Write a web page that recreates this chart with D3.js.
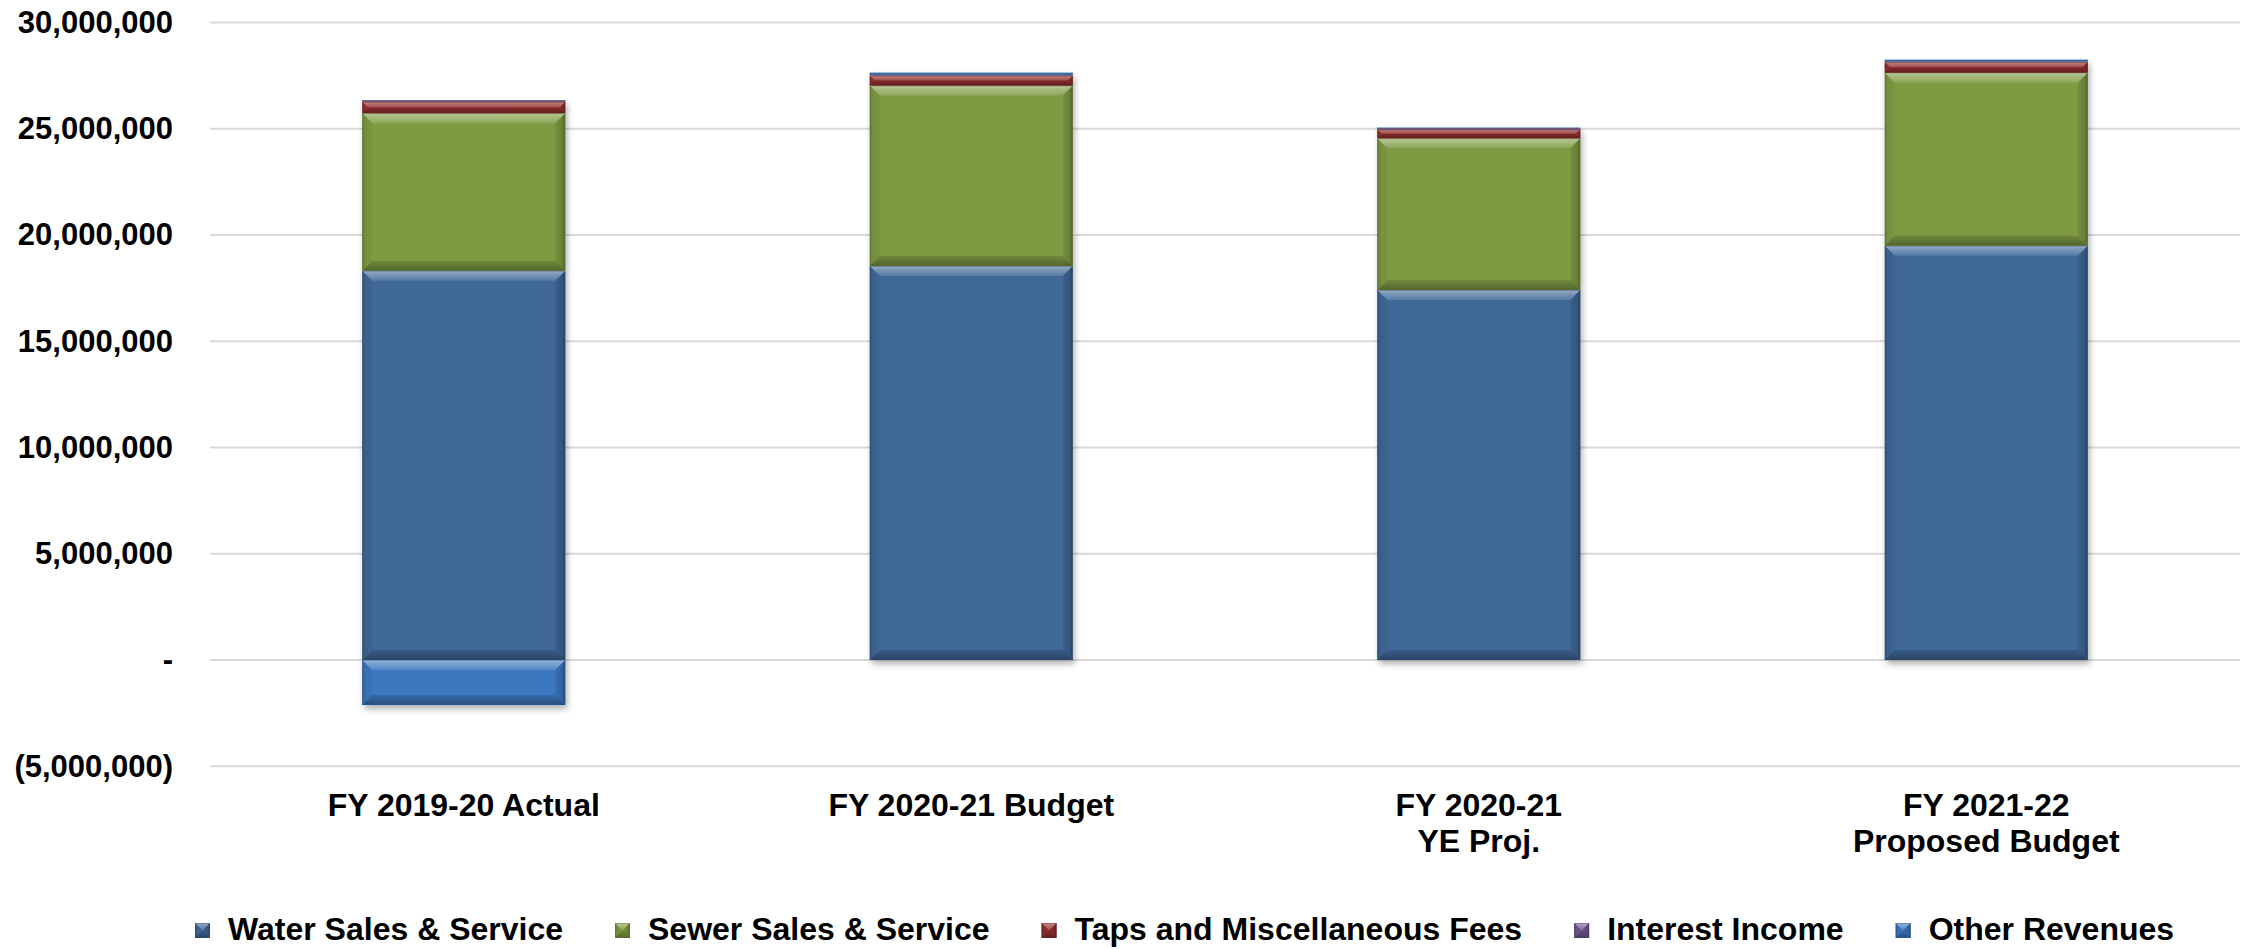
<!DOCTYPE html>
<html>
<head>
<meta charset="utf-8">
<script src="https://cdn.jsdelivr.net/npm/d3@7/dist/d3.min.js"></script>
<style>
  html, body { margin: 0; padding: 0; background: #ffffff; }
  svg { display: block; font-family: "Liberation Sans", Arial, sans-serif; font-weight: bold; }
</style>
</head>
<body>
<svg id="chart" width="2252" height="949"></svg>
<script>
// ---- data ----
const categories = [["FY 2019-20 Actual"], ["FY 2020-21 Budget"], ["FY 2020-21", "YE Proj."], ["FY 2021-22", "Proposed Budget"]];
const seriesNames = ["Water Sales & Service", "Sewer Sales & Service", "Taps and Miscellaneous Fees", "Interest Income", "Other Revenues"];
const water    = [18320000, 18540000, 17410000, 19500000];
const sewer    = [7410000, 8490000, 7140000, 8140000];
const taps     = [540000, 470000, 420000, 500000];
const interest = [80000, 40000, 70000, 30000];
const other    = [-2120000, 100000, 20000, 80000];
const yTicks   = [-5000000, 0, 5000000, 10000000, 15000000, 20000000, 25000000, 30000000];
const colors   = ["#3f6899", "#7f9b43", "#93302f", "#72588f", "#3b78c0"];

// ---- layout ----
const W = 2252, H = 949;
const plot = { left: 210, right: 2240, top: 22.5, bottom: 766.25 };
const svg = d3.select("#chart");

const rows = categories.map((c, i) => ({
  key: i,
  [seriesNames[0]]: water[i],
  [seriesNames[1]]: sewer[i],
  [seriesNames[2]]: taps[i],
  [seriesNames[3]]: interest[i],
  [seriesNames[4]]: other[i]
}));

const x = d3.scaleBand().domain(d3.range(categories.length)).range([plot.left, plot.right])
  .paddingInner(0.6).paddingOuter(0.3);
const y = d3.scaleLinear().domain([-5000000, 30000000]).range([plot.bottom, plot.top]);

const stack = d3.stack().keys(seriesNames).offset(d3.stackOffsetDiverging);
const stacked = stack(rows);

// ---- defs ----
const defs = svg.append("defs");
function grad(id, x1, y1, x2, y2, stops) {
  const g = defs.append("linearGradient").attr("id", id)
    .attr("x1", x1).attr("y1", y1).attr("x2", x2).attr("y2", y2);
  stops.forEach(s => g.append("stop").attr("offset", s[0]).attr("stop-color", s[1]).attr("stop-opacity", s[2]));
}
grad("gTop", 0, 0, 0, 1, [[0, "#fff", 0.55], [0.25, "#fff", 0.35], [1, "#fff", 0.12]]);
grad("gBot", 0, 0, 0, 1, [[0, "#000", 0.12], [1, "#000", 0.35]]);
grad("gLeft", 0, 0, 1, 0, [[0, "#000", 0.22], [0.3, "#000", 0.08], [1, "#000", 0.04]]);
grad("gRight", 0, 0, 1, 0, [[0, "#000", 0.08], [0.7, "#000", 0.18], [1, "#000", 0.4]]);
const f = defs.append("filter").attr("id", "shadow").attr("x", "-10%").attr("y", "-10%").attr("width", "130%").attr("height", "130%");
f.append("feDropShadow").attr("dx", 2).attr("dy", 4).attr("stdDeviation", 3).attr("flood-color", "#000").attr("flood-opacity", 0.3);

// ---- gridlines ----
svg.append("g").selectAll("line").data(yTicks).join("line")
  .attr("x1", plot.left).attr("x2", plot.right)
  .attr("y1", d => y(d)).attr("y2", d => y(d))
  .attr("stroke", "#d9d9d9").attr("stroke-width", 2);

// ---- y axis ----
const fmt = d3.format(",");
const yAxis = d3.axisLeft(y).tickValues(yTicks).tickSize(0).tickPadding(37)
  .tickFormat(d => d === 0 ? "-" : (d < 0 ? "(" + fmt(-d) + ")" : fmt(d)));
const ya = svg.append("g").attr("transform", `translate(${plot.left},0)`).call(yAxis);
ya.select(".domain").remove();
ya.selectAll("text").attr("font-size", 31).attr("font-weight", "bold").attr("fill", "#000")
  .attr("font-family", "'Liberation Sans', Arial, sans-serif");

// ---- bars with bevel ----
function bevelSeg(g, x0, x1, yt, yb, color) {
  const h = yb - yt;
  if (h <= 0) return;
  const b = Math.min(10, h / 2);
  g.append("rect").attr("x", x0).attr("y", yt).attr("width", x1 - x0).attr("height", h).attr("fill", color);
  const poly = (pts, fill) => g.append("polygon").attr("points", pts.map(p => p.join(",")).join(" ")).attr("fill", fill);
  poly([[x0, yt], [x1, yt], [x1 - b, yt + b], [x0 + b, yt + b]], "url(#gTop)");
  poly([[x0, yb], [x1, yb], [x1 - b, yb - b], [x0 + b, yb - b]], "url(#gBot)");
  poly([[x0, yt], [x0 + b, yt + b], [x0 + b, yb - b], [x0, yb]], "url(#gLeft)");
  poly([[x1, yt], [x1 - b, yt + b], [x1 - b, yb - b], [x1, yb]], "url(#gRight)");
  g.append("rect").attr("x", x0 + 0.5).attr("y", yt + 0.5).attr("width", x1 - x0 - 1).attr("height", Math.max(0, h - 1))
    .attr("fill", "none").attr("stroke", d3.color(color).darker(0.8)).attr("stroke-opacity", 0.5).attr("stroke-width", 1);
}

const barsG = svg.append("g");
rows.forEach((r, i) => {
  const g = barsG.append("g").attr("filter", "url(#shadow)");
  stacked.forEach((s, si) => {
    const d = s[i];
    const yt = y(Math.max(d[0], d[1])), yb = y(Math.min(d[0], d[1]));
    bevelSeg(g, x(i), x(i) + x.bandwidth(), yt, yb, colors[si]);
  });
});

// ---- x axis labels ----
const xAxis = d3.axisBottom(x).tickSize(0).tickFormat(() => "");
const xa = svg.append("g").attr("transform", `translate(0,${plot.bottom})`).call(xAxis);
xa.select(".domain").remove();
xa.selectAll(".tick text").each(function (d) {
  const t = d3.select(this).attr("y", 0).attr("dy", null).attr("font-size", 32).attr("font-weight", "bold")
    .attr("fill", "#000").attr("font-family", "'Liberation Sans', Arial, sans-serif");
  categories[d].forEach((line, li) => {
    t.append("tspan").attr("x", 0).attr("y", 50 + li * 36).text(line);
  });
});

// ---- legend ----
const leg = svg.append("g").attr("transform", "translate(195,0)");
let lx = 0;
seriesNames.forEach((name, i) => {
  const g = leg.append("g").attr("transform", `translate(${lx},0)`);
  bevelSeg(g, 0, 15, 923, 938, colors[i]);
  const t = g.append("text").attr("x", 15 + 18).attr("y", 940).attr("font-size", 32).attr("font-weight", "bold")
    .attr("fill", "#000").text(name);
  const w = t.node().getComputedTextLength();
  lx += 15 + 18 + w + 52;
});
</script>
</body>
</html>
